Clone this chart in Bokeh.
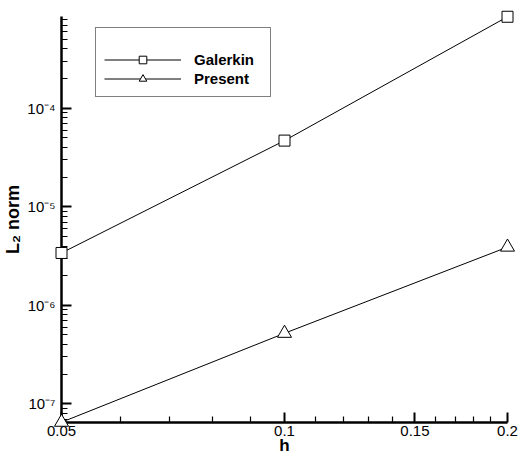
from bokeh.plotting import figure
from bokeh.models import (FixedTicker, CustomJSTickFormatter, Legend, LegendItem,
                          Range1d)
from bokeh.embed import file_html
from bokeh.resources import INLINE

# ---- data ----
h = [0.05, 0.1, 0.2]
galerkin = [3.4e-6, 4.7e-5, 8.5e-4]
present = [6.5e-8, 5.2e-7, 3.9e-6]

x_major = [0.05, 0.1, 0.15, 0.2]
x_minor = [0.06, 0.07, 0.08, 0.09, 0.11, 0.12, 0.13, 0.14, 0.16, 0.17, 0.18, 0.19]
y_major = [1e-7, 1e-6, 1e-5, 1e-4]
y_minor_mult = [2, 3, 4, 5, 6, 7, 8, 9]
y_minor = [m * d for d in [1e-8, 1e-7, 1e-6, 1e-5, 1e-4] for m in y_minor_mult]
x_label = "h"
y_label = "L\u2082 norm"

FONT = "Liberation Sans"

p = figure(frame_width=446, frame_height=406, x_axis_type="log", y_axis_type="log",
           x_range=Range1d(0.05, 0.2), y_range=Range1d(6.46e-8, 8.55e-4),
           output_backend="svg", toolbar_location=None,
           min_border_left=55, min_border_top=16, min_border_right=11,
           min_border_bottom=30)
p.outline_line_color = None
p.xgrid.visible = False
p.ygrid.visible = False

lg = p.line(h, galerkin, line_color="black", line_width=1)
sg = p.scatter(h, galerkin, marker="square", size=11, line_color="black",
               fill_color="white", line_width=1, level="overlay")
lp = p.line(h, present, line_color="black", line_width=1)
sp = p.scatter(h, present, marker="triangle", size=14, line_color="black",
               fill_color="white", line_width=1, level="overlay")

for ax in (p.xaxis[0], p.yaxis[0]):
    ax.axis_line_width = 2.5
    ax.axis_line_color = "black"
    ax.major_tick_in = 10
    ax.major_tick_out = 0
    ax.minor_tick_in = 6
    ax.minor_tick_out = 0
    ax.major_tick_line_width = 2
    ax.minor_tick_line_width = 1.2
    ax.major_tick_line_color = "black"
    ax.minor_tick_line_color = "black"
    ax.major_label_text_font = FONT
    ax.major_label_text_font_size = "15px"
    ax.major_label_text_color = "black"
    ax.axis_label_text_font = FONT
    ax.axis_label_text_font_style = "bold"
    ax.axis_label_text_color = "black"

p.xaxis.ticker = FixedTicker(ticks=x_major, minor_ticks=x_minor)
p.xaxis.formatter = CustomJSTickFormatter(code="return String(Math.round(tick*100)/100);")
p.xaxis.major_label_standoff = 3
p.xaxis.axis_label = x_label
p.xaxis.axis_label_text_font_size = "17px"
p.xaxis.axis_label_standoff = -3

p.yaxis.ticker = FixedTicker(ticks=y_major, minor_ticks=y_minor)
p.yaxis.formatter = CustomJSTickFormatter(code="""
const sup = {"-":"\u207b","0":"\u2070","1":"\u00b9","2":"\u00b2","3":"\u00b3","4":"\u2074",
             "5":"\u2075","6":"\u2076","7":"\u2077","8":"\u2078","9":"\u2079"};
const e = Math.round(Math.log10(tick));
return "10" + String(e).split("").map(c => sup[c]).join("");
""")
p.yaxis.axis_label = y_label
p.yaxis.axis_label_text_font_size = "18px"
p.yaxis.major_label_standoff = 6
p.yaxis.axis_label_standoff = 1

legend = Legend(items=[LegendItem(label="Galerkin", renderers=[lg, sg]),
                       LegendItem(label="Present", renderers=[lp, sp])],
                location=(34, 325), orientation="vertical",
                border_line_color="black", border_line_width=1.2,
                background_fill_color="white", background_fill_alpha=1,
                padding=8, margin=0, spacing=0,
                glyph_height=19, glyph_width=77, label_standoff=13,
                label_width=68, label_height=19,
                label_text_font=FONT, label_text_font_style="bold",
                label_text_font_size="15px", label_text_color="black",
                title=" ", title_text_font_size="6px", title_standoff=8)
p.add_layout(legend)

open("out.html", "w").write(file_html(p, INLINE))
